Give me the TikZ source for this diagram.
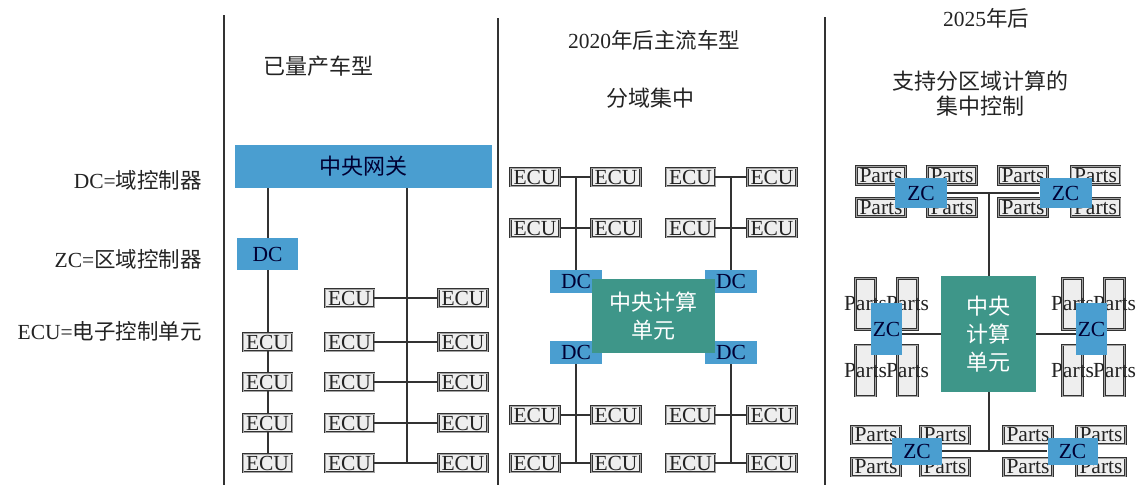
\documentclass[tikz,border=0pt]{standalone}
\usepackage{fontspec}
\setmainfont{Liberation Serif}
\newfontfamily\cjk{Noto Sans CJK SC}
\definecolor{zblue}{RGB}{74,158,208}
\definecolor{zteal}{RGB}{62,150,137}
\definecolor{lineg}{RGB}{50,50,50}
\definecolor{boxfill}{RGB}{238,238,238}
\definecolor{txt}{RGB}{35,35,35}
\begin{document}
\begin{tikzpicture}[x=1pt,y=-1pt,
  every node/.style={font=\fontsize{21.5}{24}\selectfont, inner sep=0pt, text=txt},
  conn/.style={draw=lineg, line width=2pt},
  sepline/.style={draw=lineg, line width=2pt},
  ecubox/.style={draw=lineg, line width=0.9pt, double=boxfill!60!lineg, double distance=0.7pt, fill=boxfill, minimum width=49pt, minimum height=18pt},
  vpart/.style={draw=lineg, line width=0.9pt, double=boxfill!60!lineg, double distance=0.7pt, fill=boxfill, minimum width=20pt, minimum height=51pt},
  bluebox/.style={fill=zblue, text=black!80!blue},
  central/.style={fill=zteal, text=white, align=center, font=\cjk\fontsize{22}{28}\selectfont},
  cjklabel/.style={font=\cjk\fontsize{22}{25}\selectfont, align=center},
]
\useasboundingbox (0,0) rectangle (1140,485);

% separators
\draw[sepline] (224,15) -- (224,485);
\draw[sepline] (498,18) -- (498,485);
\draw[sepline] (825,17) -- (825,485);

% legend
\node[anchor=east] (ldc) at (202,180) {DC={\cjk 域控制器}};
\node[anchor=east] (lzc) at (202,259) {ZC={\cjk 区域控制器}};
\node[anchor=east] (lecu) at (202,331) {ECU={\cjk 电子控制单元}};

% titles
\node[cjklabel] (t1) at (318,66) {已量产车型};
\node (t2) at (654,40) {2020{\cjk 年后主流车型}};
\node[cjklabel] (t2b) at (650,98) {分域集中};
\node (t3) at (986,18) {2025{\cjk 年后}};
\node[cjklabel] (t3b) at (980,94) {支持分区域计算的\\集中控制};

% ---------- column 1 ----------
\node[bluebox, minimum width=257pt, minimum height=43pt, font=\cjk\fontsize{22}{26}\selectfont] (gw) at (363.5,166.5) {中央网关};
\node[bluebox, minimum width=61pt, minimum height=32pt] (dc1) at (267.5,254) {DC};
\foreach \i/\y in {1/342,2/382,3/423,4/463}
  \node[ecubox] (a\i) at (267.5,\y) {ECU};
\foreach \i/\y in {1/298,2/342,3/382,4/423,5/463}{
  \node[ecubox] (m\i) at (349.5,\y) {ECU};
  \node[ecubox] (r\i) at (463,\y) {ECU};
}
\coordinate (bus) at (407,463);
\draw[conn] (gw.south -| bus) -- (bus);
\foreach \i in {1,...,5}
  \draw[conn] (m\i.east) -- (r\i.west);
\draw[conn] (gw.south -| dc1) -- (dc1.north);
\draw[conn] (dc1.south) -- (a1.north);
\draw[conn] (a1.south) -- (a2.north);
\draw[conn] (a2.south) -- (a3.north);
\draw[conn] (a3.south) -- (a4.north);

% ---------- column 2 ----------
\foreach \n/\x/\y in {p1/535/177,p2/616/177,p3/535/228,p4/616/228,
                      q1/690.5/177,q2/772/177,q3/690.5/228,q4/772/228,
                      s1/535/415,s2/616/415,s3/535/463,s4/616/463,
                      t1/690.5/415,t2/772/415,t3/690.5/463,t4/772/463}
  \node[ecubox] (\n) at (\x,\y) {ECU};
\node[bluebox, minimum width=52pt, minimum height=23pt] (dTL) at (576,281.5) {DC};
\node[bluebox, minimum width=52pt, minimum height=23pt] (dTR) at (731,281.5) {DC};
\node[bluebox, minimum width=52pt, minimum height=23pt] (dBL) at (576,352.5) {DC};
\node[bluebox, minimum width=52pt, minimum height=23pt] (dBR) at (731,352.5) {DC};
\node[central, minimum width=123pt, minimum height=74pt] (cu2) at (653.5,316) {中央计算\\单元};
\foreach \g in {p,q,s,t}{
  \draw[conn] (\g1.east) -- (\g2.west);
  \draw[conn] (\g3.east) -- (\g4.west);
}
\draw[conn] (dTL.north) -- (dTL.north |- p1);
\draw[conn] (dTR.north) -- (dTR.north |- q1);
\draw[conn] (dBL.south) -- (dBL.south |- s3);
\draw[conn] (dBR.south) -- (dBR.south |- t3);

% ---------- column 3 ----------
\foreach \n/\x/\y in {u1/881/175.5,u2/952/175.5,u3/881/207.5,u4/952/207.5,
                      v1/1023/175.5,v2/1095.5/175.5,v3/1023/207.5,v4/1095.5/207.5,
                      y1/876/435,y2/945/435,y3/876/467,y4/945/467,
                      c1/1028/435,c2/1101/435,c3/1028/467,c4/1101/467}
  \node[ecubox] (\n) at (\x,\y) {Parts};
\foreach \n/\x/\y in {w1/865.5/304,w2/907.5/304,w3/865.5/370.5,w4/907.5/370.5,
                      x1/1072.5/304,x2/1114.5/304,x3/1072.5/370.5,x4/1114.5/370.5}
  \node[vpart] (\n) at (\x,\y) {};
\foreach \n in {w1,w2,w3,w4,x1,x2,x3,x4}
  \node (\n t) at (\n) {Parts};
\node[central, minimum width=95pt, minimum height=116pt] (cu3) at (988.5,334) {中央\\计算\\单元};
\node[bluebox, minimum width=52pt, minimum height=30pt] (zTL) at (921,193) {ZC};
\node[bluebox, minimum width=52pt, minimum height=30pt] (zTR) at (1065.5,193) {ZC};
\node[bluebox, minimum width=31pt, minimum height=52pt] (zL) at (886.5,329) {ZC};
\node[bluebox, minimum width=31pt, minimum height=52pt] (zR) at (1091.5,329) {ZC};
\node[bluebox, minimum width=50pt, minimum height=27pt] (zBL) at (917,451) {ZC};
\node[bluebox, minimum width=50pt, minimum height=27pt] (zBR) at (1072.5,451) {ZC};
\draw[conn] (zTL.east) -- (zTR.west);
\draw[conn] (cu3.north) -- (cu3.north |- zTL);
\draw[conn] (cu3.south) -- (cu3.south |- zBL);
\draw[conn] (zBL.east) -- (zBR.west);
\draw[conn] (cu3.west) -- (cu3.west -| zL.east);
\draw[conn] (cu3.east) -- (cu3.east -| zR.west);
\end{tikzpicture}
\end{document}
